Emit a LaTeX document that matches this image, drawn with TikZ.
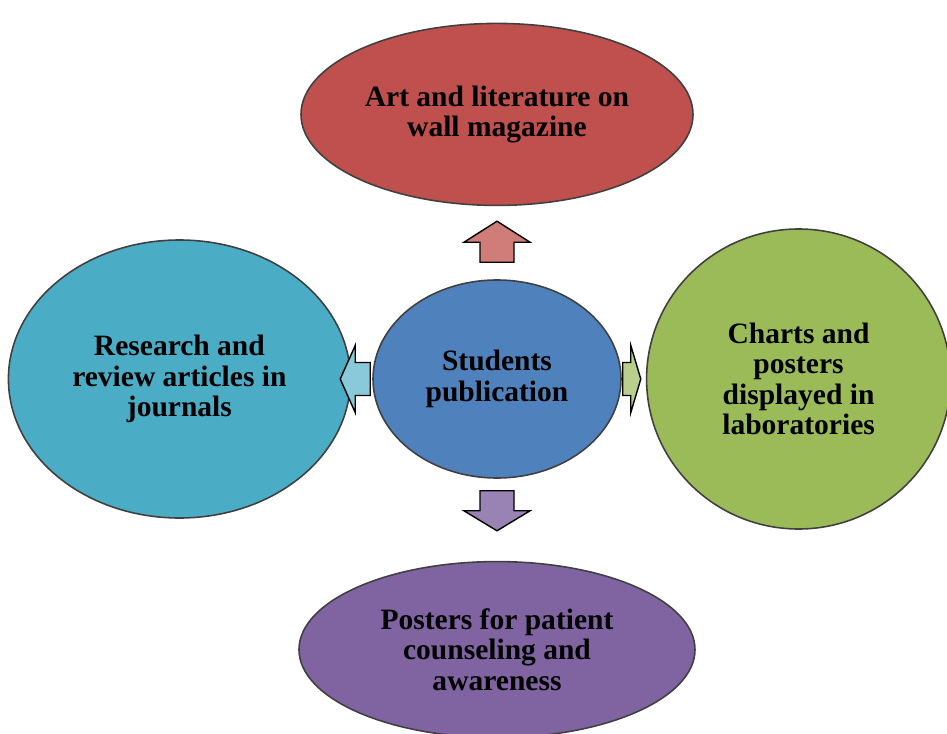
\documentclass[tikz,border=0pt]{standalone}
\usepackage{fontspec}
\setmainfont{Liberation Serif}
\usetikzlibrary{positioning,shapes.geometric}

\definecolor{artred}{HTML}{C0504D}
\definecolor{pubblue}{HTML}{4F81BD}
\definecolor{researchcyan}{HTML}{4BACC6}
\definecolor{chartgreen}{HTML}{9BBB59}
\definecolor{posterpurple}{HTML}{8064A2}

\tikzset{
  bubble/.style={ellipse,draw=black!75,line width=0.9pt,inner sep=0pt,align=center,
    font=\fontsize{16.8}{17.2}\selectfont\bfseries},
  arrowline/.style={draw=black,line width=0.8pt,line join=miter},
  pics/blockarrow/.style n args={5}{code={
    \draw [arrowline,fill=#5] (0,-#3) -- ({#1-#2},-#3) -- ({#1-#2},-#4) -- (#1,0)
      -- ({#1-#2},#4) -- ({#1-#2},#3) -- (0,#3) -- cycle;
  }}
}

\begin{document}
\begin{tikzpicture}

  \useasboundingbox (-9.94,-7.08) rectangle (9.00,7.58);

  % Centre
  \node [bubble,fill=pubblue,minimum width=4.96cm,minimum height=3.96cm] (pub) at (0,0)
    {Students\\publication};

  % Top
  \node [bubble,fill=artred,minimum width=7.84cm,minimum height=3.64cm,above=1.46cm of pub] (art)
    {Art and literature on\\wall magazine};

  % Left
  \node [bubble,fill=researchcyan,minimum width=6.84cm,minimum height=5.56cm,left=0.42cm of pub] (research)
    {Research and\\review articles in\\journals};

  % Right
  \node [bubble,fill=chartgreen,minimum width=6.08cm,minimum height=6.0cm,right=0.48cm of pub] (charts)
    {Charts and\\posters\\displayed in\\laboratories};

  % Bottom
  \node [bubble,fill=posterpurple,minimum width=7.92cm,minimum height=3.52cm,below=1.64cm of pub] (posters)
    {Posters for patient\\counseling and\\awareness};

  % Arrows
  \coordinate [above=0.34cm of pub] (upbase);
  \coordinate [below=0.24cm of pub] (downbase);
  \coordinate [left=0.04cm of pub] (leftbase);
  \coordinate [right=0.02cm of pub] (rightbase);

  \pic [rotate=90] at (upbase) {blockarrow={0.82}{0.42}{0.34}{0.66}{artred!75!white}};
  \pic [rotate=-90] at (downbase) {blockarrow={0.8}{0.4}{0.34}{0.66}{posterpurple!80!white}};
  \pic [rotate=180] at (leftbase) {blockarrow={0.6}{0.3}{0.33}{0.67}{researchcyan!65!white}};
  \pic at (rightbase) {blockarrow={0.36}{0.2}{0.33}{0.67}{chartgreen!70!white}};

\end{tikzpicture}
\end{document}
